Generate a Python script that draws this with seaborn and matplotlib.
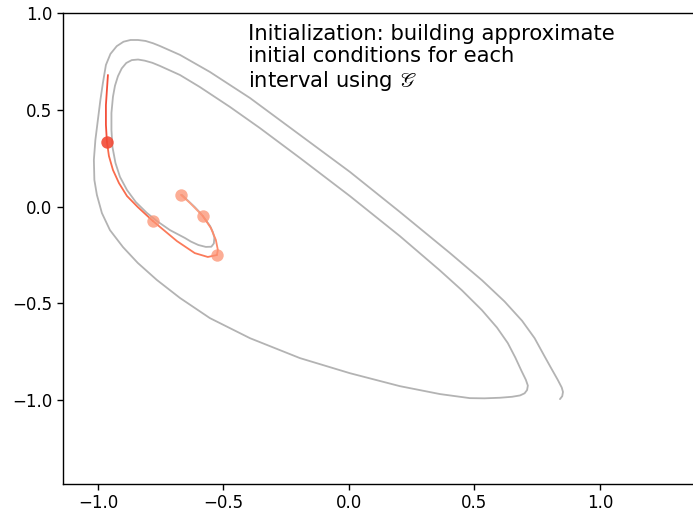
import matplotlib
matplotlib.use("Agg")
import matplotlib.pyplot as plt
import seaborn as sns
import pandas as pd

# Fine trajectory (gray)
fine_x = [-0.665, -0.640, -0.614, -0.590, -0.570, -0.553, -0.542, -0.536, -0.538, -0.548,
          -0.570, -0.600, -0.630, -0.653, -0.713, -0.765, -0.805, -0.849, -0.884, -0.912,
          -0.930, -0.942, -0.946, -0.946, -0.940, -0.932, -0.920, -0.905, -0.887, -0.865,
          -0.840, -0.813, -0.783, -0.753, -0.673, -0.594, -0.474, -0.355, -0.195, 0.004,
          0.203, 0.363, 0.450, 0.530, 0.590, 0.633, 0.663, 0.688, 0.705, 0.713,
          0.710, 0.700, 0.682, 0.650, 0.602, 0.540, 0.482, 0.363, 0.203, 0.004,
          -0.195, -0.394, -0.554, -0.673, -0.765, -0.841, -0.900, -0.952, -0.984, -1.004,
          -1.014, -1.016, -1.010, -1.000, -0.990, -0.980, -0.968, -0.950, -0.925, -0.898,
          -0.870, -0.840, -0.810, -0.780, -0.753, -0.673, -0.554, -0.394, -0.195, 0.004,
          0.203, 0.402, 0.530, 0.620, 0.690, 0.740, 0.778, 0.808, 0.832, 0.848,
          0.853, 0.850, 0.841]
fine_y = [0.061, 0.030, -0.002, -0.035, -0.069, -0.100, -0.131, -0.160, -0.190, -0.207,
          -0.208, -0.198, -0.180, -0.162, -0.121, -0.074, -0.032, 0.024, 0.086, 0.154,
          0.226, 0.309, 0.397, 0.485, 0.568, 0.625, 0.675, 0.715, 0.743, 0.758,
          0.761, 0.755, 0.744, 0.728, 0.681, 0.619, 0.516, 0.407, 0.252, 0.055,
          -0.152, -0.330, -0.432, -0.535, -0.625, -0.705, -0.780, -0.850, -0.895, -0.925,
          -0.948, -0.965, -0.976, -0.983, -0.988, -0.991, -0.990, -0.969, -0.928, -0.861,
          -0.783, -0.680, -0.576, -0.472, -0.379, -0.291, -0.209, -0.121, -0.033, 0.061,
          0.138, 0.242, 0.345, 0.449, 0.552, 0.640, 0.733, 0.790, 0.830, 0.853,
          0.862, 0.862, 0.857, 0.845, 0.831, 0.785, 0.697, 0.562, 0.371, 0.180,
          -0.027, -0.239, -0.380, -0.490, -0.590, -0.680, -0.770, -0.840, -0.895, -0.935,
          -0.958, -0.980, -0.995]

# Coarse propagation segments (one per interval)
seg_x = [
    [-0.669, -0.633, -0.582],
    [-0.582, -0.550, -0.530, -0.522, -0.526],
    [-0.526, -0.562, -0.614, -0.685, -0.781],
    [-0.781, -0.841, -0.884, -0.916, -0.940, -0.956, -0.964],
    [-0.964, -0.968, -0.968, -0.964, -0.960],
]
seg_y = [
    [0.061, 0.019, -0.048],
    [-0.048, -0.110, -0.172, -0.224, -0.250],
    [-0.250, -0.260, -0.240, -0.178, -0.074],
    [-0.074, -0.002, 0.055, 0.122, 0.190, 0.262, 0.335],
    [0.335, 0.423, 0.526, 0.604, 0.681],
]

# Initial conditions of the intervals
ic_x = [-0.669, -0.582, -0.526, -0.781]
ic_y = [0.061, -0.048, -0.250, -0.074]
cur_x = [-0.964]
cur_y = [0.335]

xlim = (-1.139, 1.371)
ylim = (-1.434, 1.0)
title = "Initialization: building approximate\ninitial conditions for each\ninterval using $\\mathscr{G}$"

sns.set_style("ticks")
plt.rcParams['font.family'] = ['DejaVu Sans']
plt.rcParams['text.color'] = 'black'
plt.rcParams['xtick.color'] = 'black'
plt.rcParams['ytick.color'] = 'black'
plt.rcParams['axes.labelcolor'] = 'black'

fig = plt.figure(figsize=(6.93, 5.13), dpi=100)
ax = fig.add_axes([63 / 693, 29 / 513, 630 / 693, 470.7 / 513])

fine = pd.DataFrame({"x": fine_x, "y": fine_y})
sns.lineplot(data=fine, x="x", y="y", sort=False, estimator=None, color="#b3b3b3",
             linewidth=1.3, ax=ax)

seg_colors = ['#fca082', '#fc8b6b', '#fb7a5a', '#f96b4c', '#f3503a']
rows = []
for i, (sx, sy) in enumerate(zip(seg_x, seg_y)):
    for a, b in zip(sx, sy):
        rows.append({"x": a, "y": b, "seg": i})
segdf = pd.DataFrame(rows)
sns.lineplot(data=segdf, x="x", y="y", hue="seg", palette=seg_colors, sort=False,
             estimator=None, linewidth=1.3, legend=False, ax=ax)

sns.scatterplot(x=ic_x, y=ic_y, color="#fc9272", alpha=0.75, s=80, linewidth=0, ax=ax, zorder=5)
sns.scatterplot(x=cur_x, y=cur_y, color="#f24a36", alpha=0.9, s=80, linewidth=0, ax=ax, zorder=6)

ax.text(0.294, 0.978, title, transform=ax.transAxes, ha="left", va="top", fontsize=15.2,
        linespacing=1.15, color="black")

ax.set_xlim(*xlim)
ax.set_ylim(*ylim)
ax.set_xticks([-1.0, -0.5, 0.0, 0.5, 1.0])
ax.set_yticks([-1.0, -0.5, 0.0, 0.5, 1.0])
ax.set_xlabel("")
ax.set_ylabel("")
ax.tick_params(labelsize=12, length=4, width=1, colors="black")
ax.spines['right'].set_visible(False)
for s in ['left', 'top', 'bottom']:
    ax.spines[s].set_linewidth(1.0)
    ax.spines[s].set_color('black')

fig.savefig("out.png", dpi=100)
